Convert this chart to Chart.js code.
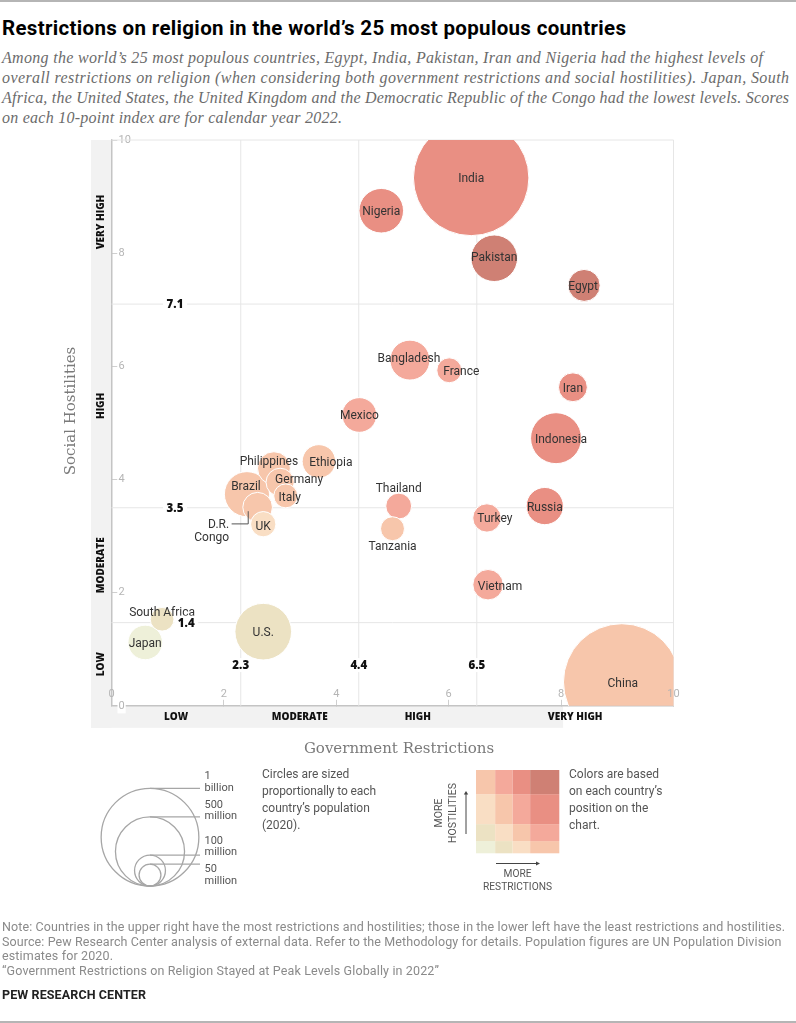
<!DOCTYPE html>
<html><head><meta charset="utf-8">
<script src="https://cdn.jsdelivr.net/npm/chart.js@4"></script>
<style>
html,body{margin:0;padding:0;background:#fff;width:796px;height:1023px;overflow:hidden}
#wrap{position:relative;width:796px;height:1023px}
canvas{position:absolute;left:0;top:0}
.t{position:absolute;white-space:nowrap;line-height:1;transform:translateY(-50%)}
.sub{font:italic 16px "Liberation Serif",serif;color:#6b6b6b}
.sans{font-family:"Roboto",sans-serif;color:#555}
.note{font-size:12.5px;color:#8a8a8a}
.rot{position:absolute;white-space:nowrap;line-height:1;transform:translate(-50%,-50%) rotate(-90deg);font:10.5px "Roboto",sans-serif;color:#555}
.bar{position:absolute;left:0;width:796px;height:2px;background:#b5b5b5}
</style></head><body><div id="wrap">
<div class="bar" style="top:0"></div>
<div class="t" data-w="624" style="left:2px;top:28px;font:700 20.5px 'Roboto',sans-serif;color:#000">Restrictions on religion in the world’s 25 most populous countries</div>
<div class="t sub" data-w="761" style="left:2px;top:58px">Among the world’s 25 most populous countries, Egypt, India, Pakistan, Iran and Nigeria had the highest levels of</div>
<div class="t sub" data-w="787" style="left:2px;top:78px">overall restrictions on religion (when considering both government restrictions and social hostilities). Japan, South</div>
<div class="t sub" data-w="787" style="left:2px;top:98px">Africa, the United States, the United Kingdom and the Democratic Republic of the Congo had the lowest levels. Scores</div>
<div class="t sub" data-w="340" style="left:2px;top:118px">on each 10-point index are for calendar year 2022.</div>
<canvas id="c" width="796" height="1023"></canvas>

<div class="t sans" style="left:204.5px;top:775px;font-size:11px">1</div>
<div class="t sans" style="left:204.5px;top:786.5px;font-size:11px">billion</div>
<div class="t sans" style="left:204.5px;top:803.5px;font-size:11px">500</div>
<div class="t sans" style="left:204.5px;top:815px;font-size:11px">million</div>
<div class="t sans" style="left:204.5px;top:840px;font-size:11px">100</div>
<div class="t sans" style="left:204.5px;top:851px;font-size:11px">million</div>
<div class="t sans" style="left:204.5px;top:868px;font-size:11px">50</div>
<div class="t sans" style="left:204.5px;top:879.5px;font-size:11px">million</div>

<div class="t sans" style="left:262px;top:774px;font-size:12px">Circles are sized</div>
<div class="t sans" data-w="114" style="left:262px;top:791px;font-size:12px">proportionally to each</div>
<div class="t sans" style="left:262px;top:807.5px;font-size:12px">country’s population</div>
<div class="t sans" style="left:262px;top:824.5px;font-size:12px">(2020).</div>

<div class="t sans" style="left:569px;top:774px;font-size:12px">Colors are based</div>
<div class="t sans" style="left:569px;top:791px;font-size:12px">on each country’s</div>
<div class="t sans" style="left:569px;top:807.5px;font-size:12px">position on the</div>
<div class="t sans" style="left:569px;top:824.5px;font-size:12px">chart.</div>

<div class="rot" style="left:438px;top:813px">MORE</div>
<div class="rot" style="left:451.5px;top:813px">HOSTILITIES</div>
<div class="t sans" style="left:517.5px;top:874px;font-size:10.2px;transform:translate(-50%,-50%)">MORE</div>
<div class="t sans" style="left:517.5px;top:886.5px;font-size:10.2px;transform:translate(-50%,-50%)">RESTRICTIONS</div>

<div class="t sans note" data-w="783" style="left:2px;top:927px">Note: Countries in the upper right have the most restrictions and hostilities; those in the lower left have the least restrictions and hostilities.</div>
<div class="t sans note" data-w="779" style="left:2px;top:941.5px">Source: Pew Research Center analysis of external data. Refer to the Methodology for details. Population figures are UN Population Division</div>
<div class="t sans note" data-w="111" style="left:2px;top:956px">estimates for 2020.</div>
<div class="t sans note" data-w="437" style="left:2px;top:970.5px">“Government Restrictions on Religion Stayed at Peak Levels Globally in 2022”</div>
<div class="t sans" data-w="144" style="left:2px;top:994.5px;font-size:12.5px;font-weight:700;color:#222">PEW RESEARCH CENTER</div>
<div class="bar" style="top:1021px"></div>
</div>
<script>
const countries = ["China","India","U.S.","Indonesia","Pakistan","Brazil","Nigeria","Bangladesh","Russia","Mexico","Japan","Ethiopia","Philippines","Egypt","Vietnam","D.R. Congo","Iran","Turkey","Germany","Thailand","UK","France","Tanzania","Italy","South Africa"];
const govScores = [9.08,6.40,2.70,7.91,6.81,2.41,4.80,5.31,7.71,4.41,0.60,3.69,2.89,8.41,6.70,2.60,8.21,6.68,3.00,5.11,2.70,6.01,5.00,3.10,0.90];
const socScores = [0.42,9.33,1.31,4.73,7.91,3.74,8.75,6.11,3.53,5.14,1.12,4.32,4.20,7.43,2.14,3.51,5.63,3.32,3.95,3.53,3.21,5.93,3.13,3.71,1.53];
const populations = [1425,1396,336,272,227,213,208,167,145,126,125,117,113,107,97,92,87,84,83,70,67,65,60,60,59];
const xThresholds = [2.3,4.4,6.5];
const yThresholds = [1.47,3.5,7.1];
const xThresholdLabels = ["2.3","4.4","6.5"];
const yThresholdLabels = ["1.4","3.5","7.1"];
const xBandNames = ["LOW","MODERATE","HIGH","VERY HIGH"];
const yBandNames = ["LOW","MODERATE","HIGH","VERY HIGH"];
const legendPopulations = [1000,500,100,50];

const colorGrid = [ // rows low->very high hostilities, columns low->very high restrictions
  ["#eef0d9","#ece2c3","#f9dec4","#f7c6ab"],
  ["#ece2c3","#f9dec4","#f7c6ab","#f4a99b"],
  ["#f9dec4","#f7c6ab","#f4a99b","#e98f83"],
  ["#f7c6ab","#f4a99b","#e98f83","#cf8074"]
];
const R_K = 1.545;
const band = (v,t)=>t.filter(x=>v>=x).length;
const SANS='"Roboto",sans-serif';
const GRID='#e6e6e6';

const labelOffsets = {India:[0,0],Pakistan:[0,-2],Egypt:[-1,0],Bangladesh:[-1,-3],France:[12,0],Indonesia:[5,0],Ethiopia:[12,0],Philippines:[-5,-8],Germany:[19,-4],Italy:[4,1],Brazil:[-1,-9],UK:[0,1],Thailand:[0,-19],Tanzania:[0,17],Turkey:[8,0],Vietnam:[12,1],"South Africa":[0,-8],China:[1,0]};

const frame = {id:'frame',
  beforeDatasetsDraw(ch){
    const {ctx,chartArea:a}=ch; ctx.save();
    ctx.strokeStyle=GRID; ctx.lineWidth=1;
    ctx.beginPath();ctx.moveTo(a.left,a.top);ctx.lineTo(a.right,a.top);ctx.lineTo(a.right,a.bottom);ctx.stroke();
    ctx.restore();
  },
  beforeDraw(ch){
    const {ctx,chartArea:a,scales:{x}}=ch; ctx.save();
    ctx.fillStyle='#f2f2f2';
    ctx.fillRect(91,a.top,a.left-91,a.bottom+22-a.top);
    ctx.fillRect(91,a.bottom,x.getPixelForValue(8)+2-91,22);
    ctx.restore();
  },
  afterDatasetsDraw(ch){
    const {ctx,chartArea:a,scales:{x,y}}=ch; ctx.save();
    const meta=ch.getSortedVisibleDatasetMetas().find(m=>m.type==='bubble');
    ctx.textAlign='center';ctx.textBaseline='middle';
    // country labels
    ctx.font='12px '+SANS;ctx.fillStyle='#333';
    const dy=1.5;
    countries.forEach((c,i)=>{
      const el=meta.data[i];
      if(c==='D.R. Congo'){
        ctx.save();ctx.strokeStyle='#555';ctx.lineWidth=1;ctx.beginPath();
        ctx.moveTo(el.x-9.4,el.y+4);ctx.lineTo(el.x-9.4,el.y+16.7);ctx.lineTo(el.x-26,el.y+16.7);ctx.stroke();
        ctx.textAlign='right';ctx.fillText('D.R.',el.x-28.5,el.y+16+dy);ctx.fillText('Congo',el.x-28.5,el.y+29+dy);ctx.restore();
        return;
      }
      const o=labelOffsets[c]||[0,0];
      ctx.fillText(c,el.x+o[0],el.y+o[1]+dy);
    });
    // threshold labels
    ctx.font='800 11.5px "Open Sans",'+SANS;
    const tag=(s,px,py,hw)=>{ctx.fillStyle='#fff';ctx.fillRect(px-hw,py-7,hw*2,14);ctx.fillStyle='#111';ctx.fillText(s,px,py+0.7);};
    yThresholds.forEach((t,i)=>{
      const px=i===0?x.getPixelForValue(1.33):x.getPixelForValue(1.13);
      tag(yThresholdLabels[i],px,y.getPixelForValue(t),12);
    });
    xThresholds.forEach((t,i)=>tag(xThresholdLabels[i],x.getPixelForValue(t),y.getPixelForValue(0.72),11));
    // band names
    ctx.font='800 10px "Open Sans",'+SANS;ctx.fillStyle='#111';
    const xe=[0,...xThresholds,10],ye=[0,...yThresholds,10];
    xBandNames.forEach((n,i)=>ctx.fillText(n,x.getPixelForValue((xe[i]+xe[i+1])/2),a.bottom+11.5));
    yBandNames.forEach((n,i)=>{ctx.save();ctx.translate(101,y.getPixelForValue((ye[i]+ye[i+1])/2));ctx.rotate(-Math.PI/2);ctx.fillText(n,0,0);ctx.restore();});
    // axis titles
    ctx.font='15px "DejaVu Serif",serif';ctx.fillStyle='#7a7a7a';
    ctx.fillText('Government Restrictions',399,749);
    ctx.save();ctx.translate(71,411);ctx.rotate(-Math.PI/2);ctx.fillText('Social Hostilities',0,0);ctx.restore();
    ctx.restore();
  },
  afterDraw(ch){
    const {ctx}=ch; ctx.save();
    // size legend
    const cx=150,by=886;
    ctx.strokeStyle='#a6a6a6';ctx.lineWidth=1.3;
    legendPopulations.forEach(p=>{
      const r=R_K*Math.sqrt(p);
      ctx.beginPath();ctx.arc(cx,by-r,r,0,Math.PI*2);ctx.stroke();
      ctx.beginPath();ctx.moveTo(cx,by-2*r);ctx.lineTo(200,by-2*r);ctx.stroke();
    });
    // colour legend: cells share the chart's thresholds
    const gx=476,gb=853.3,u=8.33;
    const xe=[0,...xThresholds,10],ye=[0,...yThresholds,10];
    colorGrid.forEach((row,r)=>row.forEach((col,c)=>{
      ctx.fillStyle=col;
      ctx.fillRect(gx+xe[c]*u,gb-ye[r+1]*u,(xe[c+1]-xe[c])*u,(ye[r+1]-ye[r])*u);
    }));
    // arrows
    ctx.strokeStyle='#444';ctx.fillStyle='#444';ctx.lineWidth=1;
    ctx.beginPath();ctx.moveTo(466,834);ctx.lineTo(466,793);ctx.stroke();
    ctx.beginPath();ctx.moveTo(463.8,794.5);ctx.lineTo(466,791);ctx.lineTo(468.2,794.5);ctx.fill();
    ctx.beginPath();ctx.moveTo(496,863.5);ctx.lineTo(537,863.5);ctx.stroke();
    ctx.beginPath();ctx.moveTo(536,861.5);ctx.lineTo(540,863.5);ctx.lineTo(536,865.5);ctx.fill();
    ctx.restore();
  }
};

const lineDs=(pts)=>({type:'line',data:pts,borderColor:GRID,borderWidth:1,pointRadius:0,fill:false,order:3,clip:false});
const datasets=[
  ...xThresholds.map(t=>lineDs([{x:t,y:0},{x:t,y:10}])),
  ...yThresholds.map(t=>lineDs([{x:0,y:t},{x:10,y:t}])),
  {type:'bubble',order:1,
   data:countries.map((c,i)=>({x:govScores[i],y:socScores[i],r:R_K*Math.sqrt(populations[i])})),
   backgroundColor:countries.map((c,i)=>colorGrid[band(socScores[i],yThresholds)][band(govScores[i],xThresholds)]),
   borderColor:'#ffffff',borderWidth:1}
];

new Chart(document.getElementById('c'),{
  type:'bubble',
  data:{datasets},
  plugins:[frame],
  options:{
    responsive:false,animation:false,devicePixelRatio:1,
    events:[],
    layout:{padding:{left:0,top:140,right:122.5,bottom:257.2}},
    plugins:{legend:{display:false},tooltip:{enabled:false},title:{display:false}},
    scales:{
      x:{type:'linear',position:'bottom',min:0,max:10,
        afterFit(s){s.height=60;s.paddingLeft=s.paddingRight=0;},
        grid:{drawOnChartArea:false,drawTicks:true,tickLength:-6,tickColor:'#cfcfcf',tickWidth:1},
        border:{color:'#c4c4c4',width:1.5},
        ticks:{stepSize:2,mirror:true,padding:5,maxRotation:0,color:'#b5b5b5',font:{family:'Roboto',size:11},z:1}
      },
      y:{type:'linear',position:'left',min:0,max:10,
        afterFit(s){s.width=111.5;s.paddingTop=s.paddingBottom=0;},
        grid:{drawOnChartArea:false,drawTicks:true,tickLength:-6,tickColor:'#cfcfcf',tickWidth:1},
        border:{color:'#c4c4c4',width:1.5},
        ticks:{stepSize:2,mirror:true,padding:7,color:'#b5b5b5',font:{family:'Roboto',size:11},showLabelBackdrop:true,backdropColor:'#fff',backdropPadding:1}
      }
    }
  }
});

// Fit DOM text widths to the measured reference line lengths
document.querySelectorAll('[data-w]').forEach(el=>{
  const w=el.getBoundingClientRect().width, n=el.textContent.length-1;
  el.style.letterSpacing=((+el.dataset.w-w)/n).toFixed(3)+'px';
});
</script>
</body></html>
